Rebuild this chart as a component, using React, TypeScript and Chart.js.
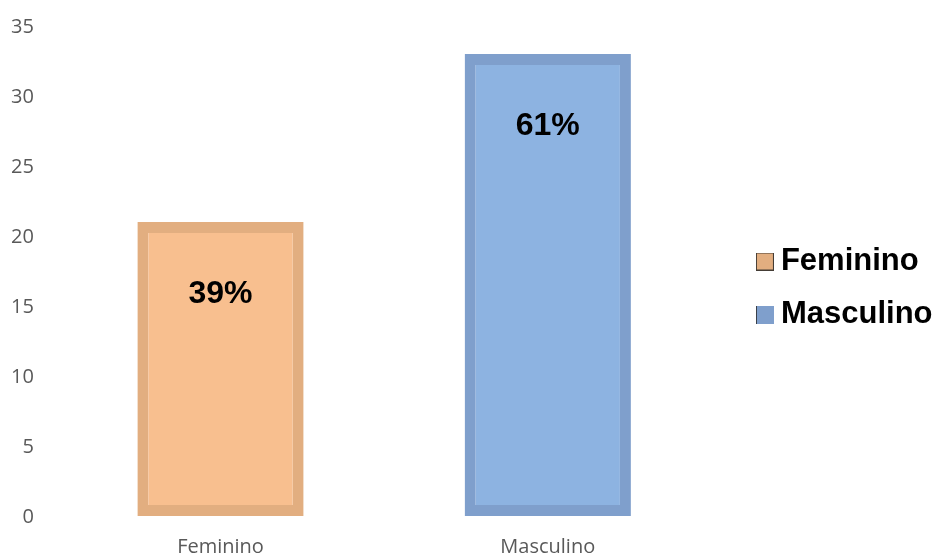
import React, { useEffect, useRef } from "react";
import { Chart, registerables } from "chart.js";

Chart.register(...registerables);

const categories = ["Feminino", "Masculino"];
const values = [21, 33];
const percentLabels = ["39%", "61%"];
const fillColors = ["#F8BF8F", "#8DB3E1"];
const borderColors = ["#E2AE80", "#7F9FCC"];
const yTicks = { min: 0, max: 35, step: 5 };

const LEGEND_EXTRA = 28.5;
const LEGEND_SHIFT = 31;
const LEGEND_DOWN = -14;

function makeSwatch(color: string, outlineAll: boolean): HTMLCanvasElement {
  const c = document.createElement("canvas");
  c.width = 18;
  c.height = 18;
  const g = c.getContext("2d")!;
  g.fillStyle = color;
  g.fillRect(0, 0, 18, 18);
  g.strokeStyle = "rgba(40,40,40,0.85)";
  g.lineWidth = 1;
  if (outlineAll) {
    g.strokeRect(0.5, 0.5, 17, 17);
  } else {
    g.beginPath();
    g.moveTo(0.5, 0);
    g.lineTo(0.5, 18);
    g.stroke();
  }
  return c;
}

const legendTweak = {
  id: "legendTweak",
  beforeInit(chart: any) {
    const legend = chart.legend;
    if (!legend) return;
    const fit = legend.fit;
    legend.fit = function () {
      fit.call(this);
      this.width += LEGEND_EXTRA;
    };
  },
  afterLayout(chart: any) {
    const legend = chart.legend;
    if (!legend) return;
    legend.left += LEGEND_SHIFT;
    legend.top += LEGEND_DOWN;
    legend.bottom += LEGEND_DOWN;
  },
};

const barLabels = {
  id: "barLabels",
  afterDatasetsDraw(chart: any) {
    const ctx = chart.ctx;
    const meta = chart.getDatasetMeta(0);
    ctx.save();
    ctx.font = "bold 32px 'Liberation Sans', Arial, sans-serif";
    ctx.fillStyle = "#000000";
    ctx.textAlign = "center";
    ctx.textBaseline = "middle";
    meta.data.forEach((bar: any, i: number) => {
      ctx.fillText(percentLabels[i], bar.x, bar.y + 72);
    });
    ctx.restore();
  },
};

export default function App() {
  const ref = useRef<HTMLCanvasElement>(null);

  useEffect(() => {
    if (!ref.current) return;
    const swatches = [makeSwatch(borderColors[0], true), makeSwatch(borderColors[1], false)];
    const chart = new Chart(ref.current, {
      type: "bar",
      data: {
        labels: categories,
        datasets: [
          {
            data: values,
            backgroundColor: fillColors,
            borderColor: borderColors,
            borderWidth: 11,
            borderSkipped: false,
            categoryPercentage: 1,
            barPercentage: 0.508,
          },
        ],
      },
      options: {
        animation: false,
        responsive: false,
        layout: { padding: { top: 26, left: -12, right: 0, bottom: -22 } },
        scales: {
          x: {
            grid: { display: false, drawTicks: false },
            border: { display: false },
            ticks: {
              color: "#595959",
              padding: 19,
              font: { family: "'Open Sans', sans-serif", size: 20 },
            },
          },
          y: {
            min: yTicks.min,
            max: yTicks.max,
            grid: { display: false, drawTicks: false },
            border: { display: false },
            afterFit: (scale: any) => {
              scale.paddingTop = 0;
              scale.paddingBottom = 0;
            },
            ticks: {
              stepSize: yTicks.step,
              color: "#595959",
              padding: 23,
              labelOffset: 1,
              font: { family: "'Open Sans', sans-serif", size: 20 },
            },
          },
        },
        plugins: {
          tooltip: { enabled: false },
          legend: {
            position: "right",
            labels: {
              usePointStyle: true,
              pointStyleWidth: 1,
              boxWidth: 18,
              boxHeight: 18,
              padding: 22,
              color: "#000000",
              font: { family: "'Liberation Sans', Arial, sans-serif", size: 31, weight: "bold" },
              generateLabels: () =>
                categories.map((c, i) => ({
                  text: c,
                  fillStyle: borderColors[i],
                  strokeStyle: borderColors[i],
                  pointStyle: swatches[i],
                  lineWidth: 0,
                  hidden: false,
                  index: i,
                  datasetIndex: 0,
                })),
            },
          },
        },
      },
      plugins: [legendTweak, barLabels],
    });
    return () => chart.destroy();
  }, []);

  return (
    <div style={{ position: "absolute", left: 0, top: 0, width: 940, height: 556, background: "#fff" }}>
      <canvas ref={ref} width={940} height={556} style={{ display: "block" }} />
    </div>
  );
}
